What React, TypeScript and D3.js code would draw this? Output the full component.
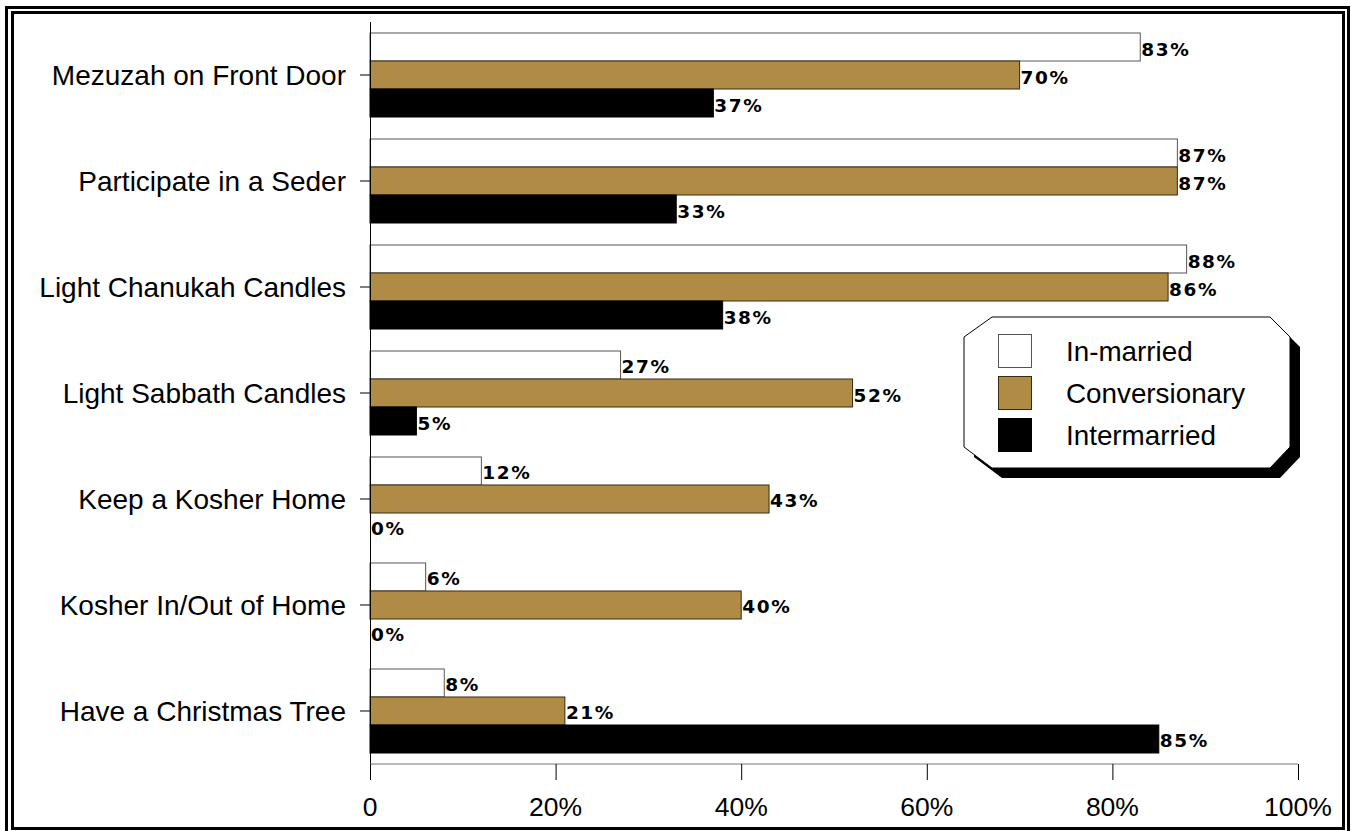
import React from "react";
import * as d3 from "d3";

const categories = [
  "Mezuzah on Front Door",
  "Participate in a Seder",
  "Light Chanukah Candles",
  "Light Sabbath Candles",
  "Keep a Kosher Home",
  "Kosher In/Out of Home",
  "Have a Christmas Tree",
];
const seriesNames = ["In-married", "Conversionary", "Intermarried"];
const inMarried = [83, 87, 88, 27, 12, 6, 8];
const conversionary = [70, 87, 86, 52, 43, 40, 21];
const intermarried = [37, 33, 38, 5, 0, 0, 85];
const xTicks = [0, 20, 40, 60, 80, 100];
const tickLabels = ["0", "20%", "40%", "60%", "80%", "100%"];

const colors = ["#ffffff", "#B08B45", "#000000"];
const strokes = ["#555555", "#3a2a10", "#000000"];

export default function App() {
  const W = 1351, H = 831;
  const x = d3.scaleLinear().domain([0, 100]).range([370, 1298]);
  const band = d3.scaleBand<string>().domain(categories).range([22, 764]).paddingInner(0.2075).paddingOuter(0.1038);
  const series = [inMarried, conversionary, intermarried];
  const sub = d3.scaleBand<number>().domain([0, 1, 2]).range([0, band.bandwidth()]);
  const font = "'Liberation Sans', Arial, sans-serif";

  const legendPoly = (ox: number, oy: number) => {
    const pts = [
      [992, 317], [1270, 317], [1290, 337], [1290, 447], [1270, 468], [992, 468], [964, 447], [964, 337],
    ];
    return pts.map(([a, b]) => `${a + ox},${b + oy}`).join(" ");
  };

  return (
    <svg width={W} height={H} style={{ position: "absolute", left: 0, top: 0 }}>
      <rect x={0} y={0} width={W} height={H} fill="#fff" />
      <rect x={6.5} y={7.5} width={1342} height={830} fill="none" stroke="#000" strokeWidth={3} />
      <rect x={12.5} y={12.5} width={1331} height={816} fill="none" stroke="#000" strokeWidth={3} />

      {categories.map((c, ci) => (
        <g key={c}>
          {series.map((vals, si) => {
            const by = band(c)! + sub(si)!;
            const w = x(vals[ci]) - x(0);
            return (
              <g key={si}>
                <rect x={x(0)} y={by} width={w} height={sub.bandwidth()} fill={colors[si]} stroke={strokes[si]} strokeWidth={vals[ci] === 0 ? 2 : 1} />
                <text x={x(vals[ci]) + 1} y={by + sub.bandwidth() / 2 + 8.5} fontFamily="'DejaVu Sans', sans-serif" fontWeight="bold" fontSize={18.5} letterSpacing={1.6} fill="#000">
                  {vals[ci]}%
                </text>
              </g>
            );
          })}
          <line x1={360} x2={370} y1={band(c)! + band.bandwidth() / 2} y2={band(c)! + band.bandwidth() / 2} stroke="#000" />
          <text x={346} y={band(c)! + band.bandwidth() / 2 + 10} textAnchor="end" fontFamily={font} fontSize={28} fill="#000">{c}</text>
        </g>
      ))}

      <line x1={370.5} x2={370.5} y1={22} y2={780} stroke="#000" />
      <line x1={370} x2={1298} y1={764} y2={764} stroke="#777" />
      {xTicks.map((t, i) => (
        <g key={t}>
          <line x1={x(t) + 0.5} x2={x(t) + 0.5} y1={764} y2={780} stroke="#000" />
          <text x={x(t)} y={816} textAnchor="middle" fontFamily={font} fontSize={26.5} fill="#000">{tickLabels[i]}</text>
        </g>
      ))}

      <polygon points={legendPoly(10, 10)} fill="#000" />
      <polygon points={legendPoly(0, 0)} fill="#fff" stroke="#000" strokeWidth={1} />
      {seriesNames.map((n, i) => (
        <g key={n}>
          <rect x={998.5} y={334.5 + i * 42} width={33} height={33} fill={colors[i]} stroke={strokes[i]} />
          <text x={1066} y={351 + i * 42 + 10} fontFamily={font} fontSize={27.8} fill="#000">{n}</text>
        </g>
      ))}
    </svg>
  );
}
